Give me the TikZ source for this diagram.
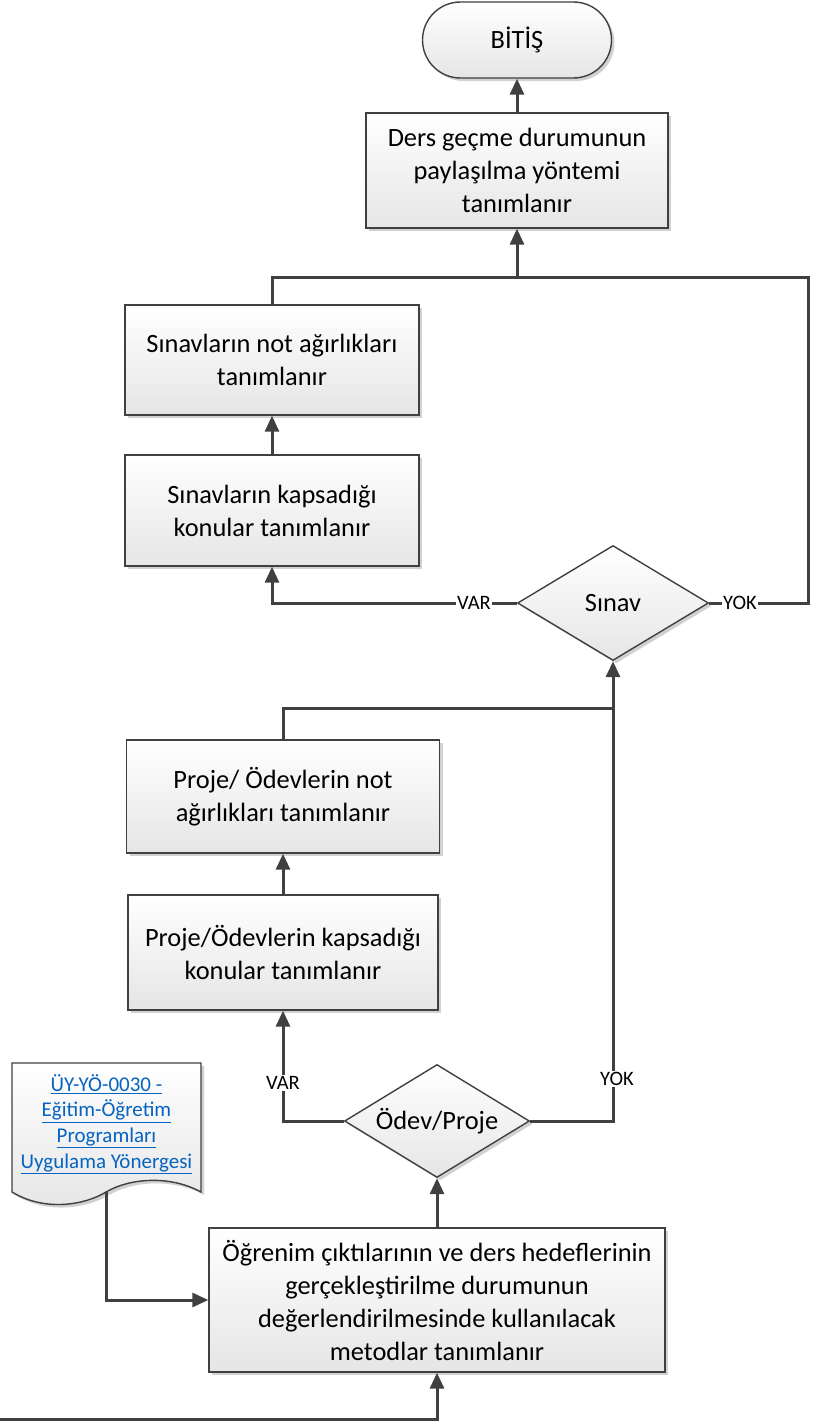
\documentclass[tikz,border=0pt]{standalone}
\usepackage{fontspec}
\setmainfont{Carlito}
\usetikzlibrary{arrows.meta,shapes.geometric,shadows,calc}
\definecolor{lnc}{HTML}{404040}
\definecolor{linkc}{HTML}{0563C1}
\tikzset{
  boxfill/.style={top color=white,bottom color=black!10,draw=lnc,line width=1.4pt,
    drop shadow={shadow xshift=3pt,shadow yshift=-3pt,opacity=0.18,fill=black}},
  procbox/.style={boxfill,rectangle,align=center,inner sep=0pt,font=\fontsize{26.4}{33}\selectfont},
  decbox/.style={boxfill,diamond,inner sep=0pt,font=\fontsize{26.4}{33}\selectfont},
  termbox/.style={boxfill,rectangle,rounded corners=38pt,inner sep=0pt,font=\fontsize{26.4}{33}\selectfont},
  conn/.style={draw=lnc,line width=3pt,-{Triangle[length=16pt,width=14pt]}},
  plain/.style={draw=lnc,line width=3pt},
  lbl/.style={font=\fontsize{20.5}{22}\selectfont,inner xsep=1.5pt,inner ysep=1pt,fill=white,text=black}
}
\begin{document}
\begin{tikzpicture}[x=1pt,y=-1pt]
\useasboundingbox (0,0) rectangle (812,1421);

% nodes
\node[termbox,minimum width=189pt,minimum height=76pt] (bitis) at (517,40) {BİTİŞ};
\node[procbox,minimum width=302pt,minimum height=115pt] (paylas) at (517,170.5) {Ders geçme durumunun\\paylaşılma yöntemi\\tanımlanır};
\node[procbox,minimum width=294pt,minimum height=110pt] (snot) at (272,360) {Sınavların not ağırlıkları\\tanımlanır};
\node[procbox,minimum width=294pt,minimum height=111pt] (skap) at (272,510.5) {Sınavların kapsadığı\\konular tanımlanır};
\node[decbox,minimum width=191pt,minimum height=115pt,aspect=1.66] (sinav) at (613,603) {Sınav};
\node[procbox,minimum width=313pt,minimum height=113pt] (pnot) at (283,796.5) {Proje/ Ödevlerin not\\ağırlıkları tanımlanır};
\node[procbox,minimum width=310pt,minimum height=115pt] (pkap) at (283,952.5) {Proje/Ödevlerin kapsadığı\\konular tanımlanır};
\node[decbox,minimum width=185pt,minimum height=113pt,aspect=1.64] (odev) at (437,1121) {Ödev/Proje};
\node[procbox,minimum width=456pt,minimum height=144pt] (ogren) at (437,1300) {Öğrenim çıktılarının ve ders hedeflerinin\\gerçekleştirilme durumunun\\değerlendirilmesinde kullanılacak\\metodlar tanımlanır};

% document shape
\path[boxfill] (12,1063) -- (201,1063) -- (201,1192)
  .. controls (170,1175) and (130,1178) .. (106,1192)
  .. controls (85,1205) and (45,1212) .. (12,1192) -- cycle;
\node[align=center,inner sep=0pt,text=linkc,font=\fontsize{21}{25.6}\selectfont] (doc) at (106.5,1124)
  {\underline{ÜY-YÖ-0030 -}\\\underline{Eğitim-Öğretim}\\\underline{Programları}\\\underline{Uygulama Yönergesi}};
\coordinate (docb) at (106,1192);

% junction coordinates
\coordinate (j1) at (517,277);
\coordinate (j2) at (613,708);
\coordinate (start) at (0,1419);

% connectors
\draw[conn] (paylas.north) -- (bitis.south);
\draw[conn] (j1) -- (paylas.south);
\draw[plain] (snot.north) |- (j1) -| (808,277) |- (sinav.east);
\draw[conn] (skap.north) -- (snot.south);
\draw[conn] (sinav.west) -| (skap.south);
\node[lbl] at (474,603) {VAR};
\node[lbl] at (740,603) {YOK};

\draw[plain] (pnot.north) |- (j2);
\draw[conn] (odev.east) -| (sinav.south);
\draw[conn] (pkap.north) -- (pnot.south);
\draw[conn] (odev.west) -| (pkap.south);
\node[lbl] at (283,1083) {VAR};
\node[lbl] at (617,1079) {YOK};

\draw[conn] (ogren.north) -- (odev.south);
\draw[conn] (docb) |- (ogren.west);
\draw[conn] (start) -| (ogren.south);
\end{tikzpicture}
\end{document}
